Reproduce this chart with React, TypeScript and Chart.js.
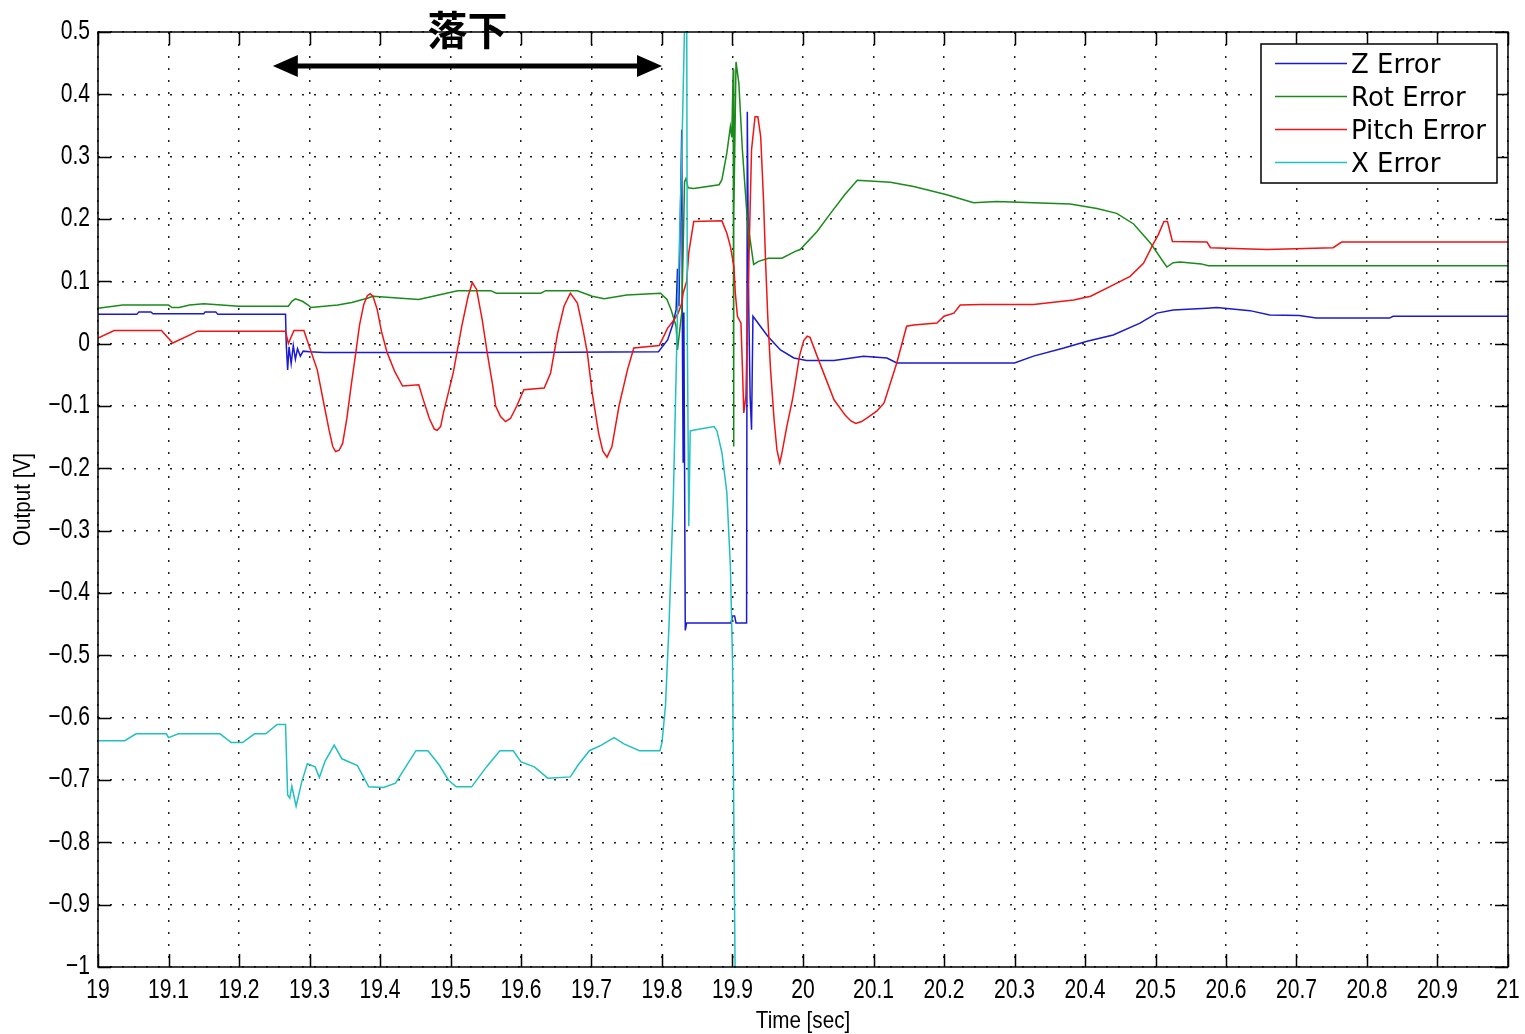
import React, { useEffect, useRef } from 'react';
import { Chart, registerables } from 'chart.js';

Chart.register(...registerables);

// ---------- axis ticks ----------
const X_TICKS = [19, 19.1, 19.2, 19.3, 19.4, 19.5, 19.6, 19.7, 19.8, 19.9, 20, 20.1, 20.2, 20.3, 20.4, 20.5, 20.6, 20.7, 20.8, 20.9, 21];
const X_TICK_LABELS = ['19', '19.1', '19.2', '19.3', '19.4', '19.5', '19.6', '19.7', '19.8', '19.9', '20', '20.1', '20.2', '20.3', '20.4', '20.5', '20.6', '20.7', '20.8', '20.9', '21'];
const Y_TICKS = [-1, -0.9, -0.8, -0.7, -0.6, -0.5, -0.4, -0.3, -0.2, -0.1, 0, 0.1, 0.2, 0.3, 0.4, 0.5];
const Y_TICK_LABELS = ['−1', '−0.9', '−0.8', '−0.7', '−0.6', '−0.5', '−0.4', '−0.3', '−0.2', '−0.1', '0', '0.1', '0.2', '0.3', '0.4', '0.5'];
const X_TITLE = 'Time [sec]';
const Y_TITLE = 'Output [V]';

// ---------- series: [time (sec), output (V)] ----------
const SERIES_NAMES = ['Z Error', 'Rot Error', 'Pitch Error', 'X Error'];

const Z_ERROR: [number, number][] = [
  [19.0, 0.047], [19.055, 0.047], [19.058, 0.051], [19.075, 0.051], [19.078, 0.048], [19.15, 0.048],
  [19.152, 0.051], [19.167, 0.051], [19.17, 0.047], [19.266, 0.047], [19.267, 0.0], [19.269, -0.042],
  [19.271, -0.005], [19.274, -0.032], [19.277, -0.003], [19.28, -0.025], [19.283, -0.008], [19.287, -0.02],
  [19.291, -0.012], [19.3, -0.013], [19.32, -0.014], [19.6, -0.014], [19.795, -0.013], [19.808, 0.006],
  [19.815, 0.03], [19.82, 0.054], [19.822, 0.12], [19.824, 0.06], [19.826, 0.2], [19.828, 0.343],
  [19.829, 0.0], [19.83, -0.19], [19.831, 0.05], [19.832, -0.2], [19.833, -0.46], [19.835, -0.448],
  [19.898, -0.448], [19.9, -0.437], [19.903, -0.437], [19.905, -0.448], [19.92, -0.448], [19.921, 0.372],
  [19.923, 0.06], [19.925, -0.085], [19.927, -0.138], [19.929, 0.044], [19.933, 0.038], [19.95, 0.012],
  [19.968, -0.01], [19.987, -0.023], [20.005, -0.027], [20.044, -0.027], [20.086, -0.02], [20.119, -0.023],
  [20.133, -0.031], [20.3, -0.031], [20.327, -0.02], [20.37, -0.007], [20.403, 0.004], [20.44, 0.014],
  [20.478, 0.033], [20.502, 0.049], [20.525, 0.054], [20.573, 0.057], [20.587, 0.058], [20.634, 0.053],
  [20.662, 0.046], [20.704, 0.045], [20.728, 0.041], [20.832, 0.041], [20.837, 0.044], [21.0, 0.044],
];

const ROT_ERROR: [number, number][] = [
  [19.0, 0.057], [19.035, 0.062], [19.1, 0.062], [19.105, 0.058], [19.115, 0.058], [19.13, 0.062],
  [19.15, 0.064], [19.2, 0.06], [19.27, 0.06], [19.275, 0.068], [19.28, 0.072], [19.29, 0.068],
  [19.298, 0.062], [19.302, 0.058], [19.34, 0.062], [19.36, 0.066], [19.382, 0.073], [19.39, 0.076],
  [19.43, 0.073], [19.455, 0.071], [19.51, 0.085], [19.557, 0.085], [19.565, 0.081], [19.628, 0.081],
  [19.635, 0.085], [19.68, 0.085], [19.701, 0.076], [19.718, 0.072], [19.75, 0.078], [19.798, 0.081],
  [19.807, 0.071], [19.813, 0.054], [19.82, 0.028], [19.822, -0.01], [19.825, 0.02], [19.828, 0.05],
  [19.83, 0.15], [19.832, 0.26], [19.834, 0.265], [19.837, 0.25], [19.845, 0.249], [19.881, 0.255],
  [19.885, 0.263], [19.892, 0.306], [19.897, 0.348], [19.899, 0.331], [19.901, 0.44], [19.9015, -0.165],
  [19.902, 0.2], [19.905, 0.452], [19.909, 0.418], [19.914, 0.311], [19.918, 0.247], [19.922, 0.183],
  [19.923, 0.151], [19.925, 0.167], [19.93, 0.127], [19.937, 0.132], [19.951, 0.137], [19.97, 0.137],
  [19.989, 0.148], [19.996, 0.151], [20.02, 0.18], [20.039, 0.209], [20.06, 0.24], [20.077, 0.262],
  [20.124, 0.259], [20.157, 0.252], [20.204, 0.239], [20.242, 0.226], [20.275, 0.228], [20.379, 0.224],
  [20.417, 0.217], [20.445, 0.209], [20.469, 0.192], [20.493, 0.161], [20.516, 0.123], [20.525, 0.13],
  [20.535, 0.131], [20.565, 0.128], [20.575, 0.125], [21.0, 0.125],
];

const PITCH_ERROR: [number, number][] = [
  [19.0, 0.009], [19.023, 0.021], [19.09, 0.021], [19.106, 0.001], [19.132, 0.015], [19.141, 0.02],
  [19.266, 0.02], [19.27, 0.0], [19.278, 0.021], [19.292, 0.021], [19.302, -0.012], [19.311, -0.042],
  [19.321, -0.1], [19.328, -0.14], [19.333, -0.165], [19.337, -0.173], [19.342, -0.171], [19.347, -0.16],
  [19.353, -0.12], [19.359, -0.068], [19.365, -0.02], [19.371, 0.03], [19.377, 0.063], [19.382, 0.077],
  [19.386, 0.08], [19.39, 0.076], [19.396, 0.055], [19.402, 0.02], [19.41, -0.014], [19.421, -0.045],
  [19.432, -0.068], [19.455, -0.066], [19.46, -0.085], [19.47, -0.12], [19.477, -0.137], [19.481, -0.139],
  [19.486, -0.133], [19.49, -0.111], [19.504, -0.046], [19.516, 0.028], [19.525, 0.076], [19.531, 0.098],
  [19.537, 0.087], [19.545, 0.038], [19.552, -0.014], [19.56, -0.068], [19.564, -0.1], [19.571, -0.117],
  [19.578, -0.125], [19.585, -0.12], [19.594, -0.1], [19.604, -0.074], [19.633, -0.071], [19.642, -0.047],
  [19.652, 0.017], [19.661, 0.06], [19.67, 0.081], [19.68, 0.065], [19.687, 0.028], [19.694, -0.014],
  [19.701, -0.079], [19.71, -0.143], [19.716, -0.172], [19.722, -0.182], [19.729, -0.165], [19.739, -0.1],
  [19.751, -0.042], [19.76, -0.007], [19.796, -0.003], [19.8, 0.006], [19.808, 0.025], [19.817, 0.038],
  [19.823, 0.049], [19.828, 0.065], [19.83, 0.081], [19.835, 0.1], [19.838, 0.146], [19.845, 0.196],
  [19.885, 0.197], [19.892, 0.177], [19.897, 0.156], [19.902, 0.124], [19.904, 0.081], [19.907, 0.044],
  [19.912, 0.033], [19.914, -0.036], [19.916, -0.111], [19.919, -0.084], [19.922, 0.076], [19.927, 0.311],
  [19.932, 0.364], [19.936, 0.364], [19.94, 0.332], [19.944, 0.231], [19.947, 0.129], [19.95, 0.044],
  [19.954, -0.042], [19.959, -0.122], [19.963, -0.17], [19.967, -0.191], [19.97, -0.176], [19.977, -0.133],
  [19.985, -0.09], [19.989, -0.063], [19.995, -0.02], [20.001, 0.005], [20.006, 0.012], [20.01, 0.01],
  [20.02, -0.02], [20.044, -0.09], [20.06, -0.115], [20.068, -0.124], [20.075, -0.128], [20.083, -0.125],
  [20.09, -0.12], [20.105, -0.108], [20.115, -0.095], [20.133, -0.031], [20.147, 0.028], [20.157, 0.03],
  [20.19, 0.033], [20.2, 0.044], [20.214, 0.049], [20.223, 0.062], [20.252, 0.063], [20.327, 0.063],
  [20.384, 0.07], [20.408, 0.076], [20.436, 0.092], [20.464, 0.108], [20.483, 0.129], [20.495, 0.156],
  [20.504, 0.175], [20.512, 0.196], [20.517, 0.196], [20.524, 0.164], [20.573, 0.163], [20.578, 0.154],
  [20.658, 0.151], [20.752, 0.154], [20.764, 0.163], [21.0, 0.163],
];

const X_ERROR: [number, number][] = [
  [19.0, -0.637], [19.038, -0.637], [19.054, -0.626], [19.097, -0.626], [19.1, -0.632], [19.114, -0.626],
  [19.173, -0.626], [19.189, -0.64], [19.205, -0.64], [19.222, -0.626], [19.238, -0.626], [19.254, -0.611],
  [19.266, -0.611], [19.269, -0.724], [19.272, -0.729], [19.275, -0.71], [19.281, -0.742], [19.289, -0.703],
  [19.297, -0.674], [19.308, -0.679], [19.314, -0.696], [19.322, -0.67], [19.335, -0.644], [19.346, -0.666],
  [19.368, -0.677], [19.384, -0.711], [19.405, -0.712], [19.422, -0.705], [19.438, -0.676], [19.451, -0.653],
  [19.468, -0.653], [19.484, -0.676], [19.497, -0.7], [19.508, -0.711], [19.53, -0.711], [19.551, -0.679],
  [19.57, -0.653], [19.589, -0.653], [19.6, -0.671], [19.619, -0.679], [19.638, -0.697], [19.67, -0.695],
  [19.681, -0.676], [19.697, -0.653], [19.714, -0.644], [19.732, -0.632], [19.746, -0.642], [19.768, -0.653],
  [19.797, -0.653], [19.8, -0.64], [19.805, -0.58], [19.81, -0.45], [19.816, -0.25], [19.822, 0.05],
  [19.828, 0.3], [19.833, 0.56], [19.835, 0.56], [19.836, 0.0], [19.838, -0.293], [19.84, -0.14],
  [19.848, -0.138], [19.874, -0.133], [19.878, -0.14], [19.885, -0.175], [19.892, -0.239], [19.897, -0.357],
  [19.9, -0.506], [19.904, -1.05],
];

// ---------- annotation ----------
const ANNOTATION_TEXT = '落下';
const ARROW_FROM = 19.248;
const ARROW_TO = 19.8;
const ARROW_AT = 0.4455;

// ---------- styles ----------
const SERIES_COLORS = ['#1a1ad2', '#1a8a1a', '#f01414', '#22c0c0'];
const AXIS_FAMILY = '"Liberation Sans", Arial, sans-serif';
const LEGEND_FONT = '26px "DejaVu Sans", sans-serif';

function condensedText(
  ctx: CanvasRenderingContext2D,
  text: string,
  x: number,
  y: number,
  size: number,
  sx: number,
  align: CanvasTextAlign,
  rotate = false,
) {
  ctx.save();
  ctx.translate(x, y);
  if (rotate) ctx.rotate(-Math.PI / 2);
  ctx.scale(sx, 1);
  ctx.font = `${size}px ${AXIS_FAMILY}`;
  ctx.fillStyle = '#000';
  ctx.textAlign = align;
  ctx.textBaseline = 'middle';
  ctx.fillText(text, 0, 0);
  ctx.restore();
}

const overlayPlugin = {
  id: 'matlabOverlay',
  afterDatasetsDraw(chart: any) {
    const { ctx, chartArea: ca, scales } = chart;
    const xs = scales.x;
    const ys = scales.y;
    ctx.save();

    // box frame
    ctx.strokeStyle = '#000';
    ctx.lineWidth = 1.5;
    ctx.strokeRect(ca.left, ca.top, ca.right - ca.left, ca.bottom - ca.top);

    // inward tick marks on all four sides
    const TL = 13;
    ctx.beginPath();
    xs.ticks.forEach((t: any) => {
      const px = Math.round(xs.getPixelForValue(t.value)) + 0.5;
      ctx.moveTo(px, ca.bottom);
      ctx.lineTo(px, ca.bottom - TL);
      ctx.moveTo(px, ca.top);
      ctx.lineTo(px, ca.top + TL);
    });
    ys.ticks.forEach((t: any) => {
      const py = Math.round(ys.getPixelForValue(t.value)) + 0.5;
      ctx.moveTo(ca.left, py);
      ctx.lineTo(ca.left + TL, py);
      ctx.moveTo(ca.right, py);
      ctx.lineTo(ca.right - TL, py);
    });
    ctx.stroke();

    // tick labels (narrow MATLAB-like face)
    xs.ticks.forEach((t: any, i: number) => {
      condensedText(ctx, X_TICK_LABELS[i], xs.getPixelForValue(t.value), ca.bottom + 24, 27, 0.78, 'center');
    });
    ys.ticks.forEach((t: any, i: number) => {
      condensedText(ctx, Y_TICK_LABELS[i], ca.left - 8, ys.getPixelForValue(t.value), 27, 0.78, 'right');
    });

    // axis titles
    condensedText(ctx, X_TITLE, (ca.left + ca.right) / 2, ca.bottom + 54, 24, 0.86, 'center');
    condensedText(ctx, Y_TITLE, 23, (ca.top + ca.bottom) / 2, 24, 0.86, 'center', true);

    // legend box
    const lw = 236;
    const lh = 139;
    const lx = ca.right - 11 - lw;
    const ly = ca.top + 12;
    ctx.fillStyle = '#fff';
    ctx.fillRect(lx, ly, lw, lh);
    ctx.strokeStyle = '#000';
    ctx.lineWidth = 1.5;
    ctx.strokeRect(lx, ly, lw, lh);
    ctx.font = LEGEND_FONT;
    ctx.textAlign = 'left';
    ctx.textBaseline = 'middle';
    SERIES_NAMES.forEach((name, i) => {
      const ry = ly + 19.5 + i * 33;
      ctx.strokeStyle = SERIES_COLORS[i];
      ctx.lineWidth = 1.5;
      ctx.beginPath();
      ctx.moveTo(lx + 14, ry);
      ctx.lineTo(lx + 86, ry);
      ctx.stroke();
      ctx.fillStyle = '#000';
      ctx.fillText(name, lx + 90, ry + 3);
    });

    // double-headed arrow
    const ax1 = xs.getPixelForValue(ARROW_FROM);
    const ax2 = xs.getPixelForValue(ARROW_TO);
    const ay = ys.getPixelForValue(ARROW_AT);
    const headL = 25;
    const headH = 11;
    ctx.strokeStyle = '#000';
    ctx.fillStyle = '#000';
    ctx.lineWidth = 5;
    ctx.beginPath();
    ctx.moveTo(ax1 + headL - 2, ay);
    ctx.lineTo(ax2 - headL + 2, ay);
    ctx.stroke();
    ctx.beginPath();
    ctx.moveTo(ax1, ay);
    ctx.lineTo(ax1 + headL, ay - headH);
    ctx.lineTo(ax1 + headL, ay + headH);
    ctx.closePath();
    ctx.fill();
    ctx.beginPath();
    ctx.moveTo(ax2, ay);
    ctx.lineTo(ax2 - headL, ay - headH);
    ctx.lineTo(ax2 - headL, ay + headH);
    ctx.closePath();
    ctx.fill();

    // annotation text
    ctx.font = 'bold 40px "Noto Sans CJK JP", sans-serif';
    ctx.textAlign = 'center';
    ctx.textBaseline = 'middle';
    ctx.fillText(ANNOTATION_TEXT, (ax1 + ax2) / 2, ca.top - 2);

    ctx.restore();
  },
};

export default function App() {
  const canvasRef = useRef<HTMLCanvasElement | null>(null);

  useEffect(() => {
    document.body.style.margin = '0';
    document.body.style.overflow = 'hidden';
    const canvas = canvasRef.current;
    if (!canvas) return;

    const allSeries = [Z_ERROR, ROT_ERROR, PITCH_ERROR, X_ERROR];
    const datasets = allSeries.map((pts, i) => ({
      label: SERIES_NAMES[i],
      data: pts.map(([x, y]) => ({ x, y })),
      borderColor: SERIES_COLORS[i],
      backgroundColor: SERIES_COLORS[i],
      borderWidth: 1.5,
      pointRadius: 0,
      tension: 0,
      fill: false,
      order: 4 - i,
    }));

    const chart = new Chart(canvas, {
      type: 'line',
      data: { datasets },
      options: {
        responsive: false,
        animation: false,
        devicePixelRatio: 1,
        events: [],
        layout: { padding: { top: 32, right: 17, bottom: 0, left: 0 } },
        plugins: { legend: { display: false }, tooltip: { enabled: false } },
        scales: {
          x: {
            type: 'linear',
            min: 19,
            max: 21,
            afterBuildTicks: (s: any) => {
              s.ticks = X_TICKS.map((v) => ({ value: v }));
            },
            afterFit: (s: any) => {
              s.height = 67;
              s.paddingLeft = 0;
              s.paddingRight = 0;
            },
            ticks: { display: false, autoSkip: false, maxRotation: 0 },
            grid: { color: '#222', lineWidth: 1.5, drawTicks: false },
            border: { display: false, dash: [2, 10] },
            title: { display: false },
          },
          y: {
            type: 'linear',
            min: -1,
            max: 0.5,
            afterBuildTicks: (s: any) => {
              s.ticks = Y_TICKS.map((v) => ({ value: v }));
            },
            afterFit: (s: any) => {
              s.width = 98;
              s.paddingTop = 0;
              s.paddingBottom = 0;
            },
            ticks: { display: false, autoSkip: false },
            grid: { color: '#222', lineWidth: 1.5, drawTicks: false },
            border: { display: false, dash: [2, 10] },
            title: { display: false },
          },
        },
      },
      plugins: [overlayPlugin],
    } as any);

    return () => chart.destroy();
  }, []);

  return (
    <div style={{ position: 'absolute', left: 0, top: 0, width: 1525, height: 1034, background: '#fff' }}>
      <canvas ref={canvasRef} width={1525} height={1034} style={{ display: 'block' }} />
    </div>
  );
}
